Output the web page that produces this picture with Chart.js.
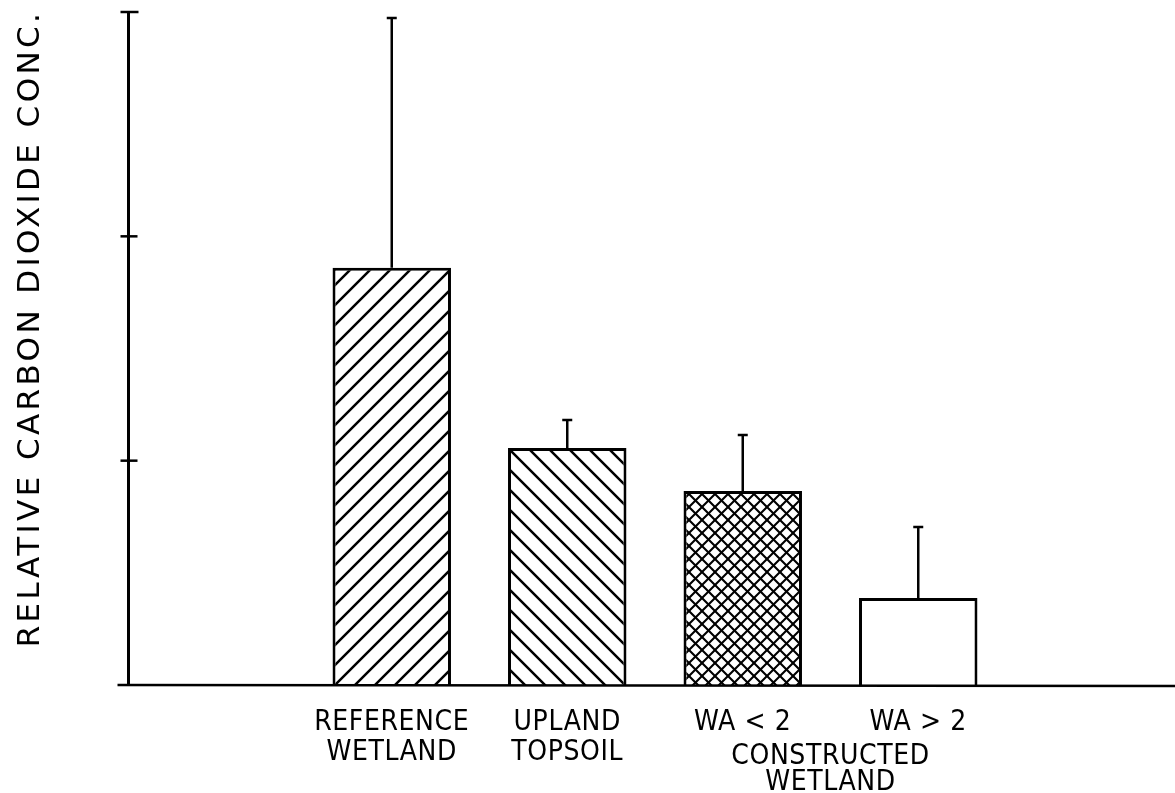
<!DOCTYPE html>
<html>
<head>
<meta charset="utf-8">
<script src="https://cdn.jsdelivr.net/npm/chart.js@4.4.1/dist/chart.umd.min.js"></script>
<style>
  html, body { margin: 0; padding: 0; background: #ffffff; }
  #wrap { width: 1175px; height: 793px; position: relative; }
</style>
</head>
<body>
<div id="wrap"><canvas id="c"></canvas></div>
<script>
// ---- data ----
const categories = ['REFERENCE WETLAND', 'UPLAND TOPSOIL', 'WA < 2', 'WA > 2'];
const categoryLines = [['REFERENCE', 'WETLAND'], ['UPLAND', 'TOPSOIL'], ['WA < 2'], ['WA > 2']];
const groupLines = ['CONSTRUCTED', 'WETLAND'];
const groupMembers = [2, 3];
const meanValues = [1.86, 1.056, 0.865, 0.388];
const errorTops = [2.973, 1.181, 1.114, 0.704];
const yTickValues = [1, 2, 3];
const yTitle = 'RELATIVE CARBON DIOXIDE CONC.';
const hatchKinds = ['fwd', 'back', 'cross', 'none'];

// ---- hatch patterns ----
function makePattern(kind) {
  const s = kind === 'cross' ? 13 : 20;
  const c = document.createElement('canvas');
  c.width = s; c.height = s;
  const g = c.getContext('2d');
  g.fillStyle = '#fff';
  g.fillRect(0, 0, s, s);
  if (kind === 'none') return g.createPattern(c, 'repeat');
  g.strokeStyle = '#000';
  g.lineWidth = kind === 'cross' ? 2.1 : 2.5;
  g.lineCap = 'square';
  const fwd = () => {
    g.beginPath();
    g.moveTo(-2, s + 2); g.lineTo(s + 2, -2);
    g.moveTo(-2, 2); g.lineTo(2, -2);
    g.moveTo(s - 2, s + 2); g.lineTo(s + 2, s - 2);
    g.stroke();
  };
  const back = () => {
    g.beginPath();
    g.moveTo(-2, -2); g.lineTo(s + 2, s + 2);
    g.moveTo(s - 2, -2); g.lineTo(s + 2, 2);
    g.moveTo(-2, s - 2); g.lineTo(2, s + 2);
    g.stroke();
  };
  if (kind === 'fwd') fwd();
  if (kind === 'back') back();
  if (kind === 'cross') { fwd(); back(); }
  return g.createPattern(c, 'repeat');
}

const LABEL_FONT = '28px "Liberation Sans Narrow", "DejaVu Sans Condensed", "Liberation Sans", sans-serif';

const decorPlugin = {
  id: 'decor',
  afterDraw(chart) {
    const ctx = chart.ctx;
    const xs = chart.scales.x, ys = chart.scales.y;
    const step = xs.getPixelForTick(1) - xs.getPixelForTick(0);
    const axisX = xs.getPixelForTick(0) - 1.5 * step;
    const y0 = ys.getPixelForValue(0);
    ctx.save();
    ctx.strokeStyle = '#000';
    ctx.lineCap = 'butt';
    // y axis
    ctx.lineWidth = 3;
    ctx.beginPath();
    ctx.moveTo(axisX, ys.getPixelForValue(3) - 1);
    ctx.lineTo(axisX, y0);
    ctx.stroke();
    // y ticks (crossing)
    ctx.lineWidth = 2.5;
    yTickValues.forEach(v => {
      const py = ys.getPixelForValue(v);
      ctx.beginPath();
      ctx.moveTo(axisX - 8, py);
      ctx.lineTo(axisX + (v === 3 ? 10 : 9), py);
      ctx.stroke();
    });
    // x axis
    ctx.lineWidth = 2.5;
    ctx.beginPath();
    ctx.moveTo(axisX - 11, y0);
    ctx.lineTo(chart.width, y0 + 1);
    ctx.stroke();
    // error bars
    ctx.lineWidth = 2.5;
    errorTops.forEach((v, i) => {
      const px = xs.getPixelForTick(i);
      const top = ys.getPixelForValue(v);
      const base = ys.getPixelForValue(meanValues[i]);
      ctx.beginPath();
      ctx.moveTo(px, base);
      ctx.lineTo(px, top);
      ctx.moveTo(px - 5, top);
      ctx.lineTo(px + 5, top);
      ctx.stroke();
    });
    // category labels
    ctx.fillStyle = '#000';
    ctx.font = LABEL_FONT;
    ctx.textAlign = 'center';
    ctx.textBaseline = 'alphabetic';
    try { ctx.letterSpacing = '0.6px'; } catch (e) {}
    categoryLines.forEach((lines, i) => {
      const px = xs.getPixelForTick(i);
      lines.forEach((t, j) => {
        ctx.fillText(t, px, y0 + 45 + j * 30);
      });
    });
    // group label
    const gx = (xs.getPixelForTick(groupMembers[0]) + xs.getPixelForTick(groupMembers[1])) / 2;
    groupLines.forEach((t, j) => {
      ctx.fillText(t, gx, y0 + 79 + j * 26);
    });
    // y title
    ctx.font = '31px "DejaVu Sans", sans-serif';
    try { ctx.letterSpacing = '3.4px'; } catch (e) {}
    ctx.translate(axisX - 98, (ys.getPixelForValue(3) + ys.getPixelForValue(0) - 40) / 2);
    ctx.rotate(-Math.PI / 2);
    ctx.textAlign = 'center';
    ctx.textBaseline = 'middle';
    ctx.fillText(yTitle, 0, 0);
    ctx.restore();
  }
};

new Chart(document.getElementById('c'), {
  type: 'bar',
  data: {
    labels: categories,
    datasets: [{
      data: meanValues,
      backgroundColor: hatchKinds.map(makePattern),
      borderColor: '#000',
      borderWidth: 3,
      borderSkipped: 'start',
      barPercentage: 0.675,
      categoryPercentage: 1.0
    }]
  },
  options: {
    responsive: true,
    maintainAspectRatio: false,
    devicePixelRatio: 1,
    animation: false,
    layout: { padding: { left: 304, right: 169, top: 12, bottom: 108 } },
    plugins: { legend: { display: false }, tooltip: { enabled: false }, title: { display: false } },
    scales: {
      x: { display: false, offset: true },
      y: { display: false, min: 0, max: 3 }
    }
  },
  plugins: [decorPlugin]
});
</script>
</body>
</html>
